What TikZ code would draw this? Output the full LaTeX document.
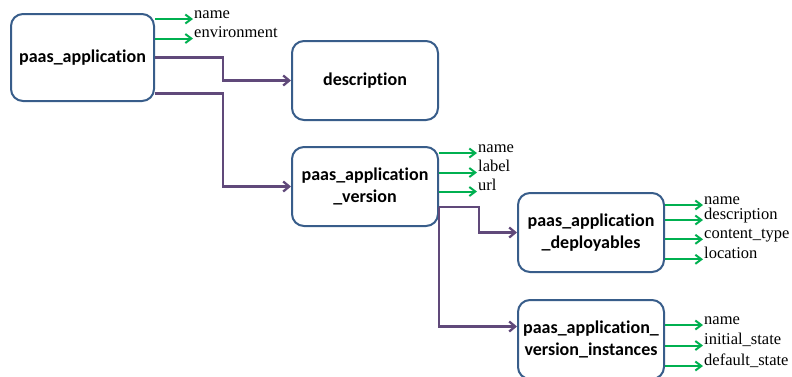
\documentclass[tikz,border=0pt]{standalone}
\usepackage{fontspec}
\setmainfont{Liberation Serif}
\newfontfamily\boxfont[Ligatures={NoCommon,NoContextual}]{Carlito}
\usetikzlibrary{positioning,arrows.meta}

\definecolor{bordo}{RGB}{56,93,138}
\definecolor{verde}{RGB}{0,176,80}
\definecolor{viola}{RGB}{96,73,122}

\begin{document}
\begin{tikzpicture}[x=1pt,y=-1pt,
  box/.style={draw=bordo,line width=2pt,rounded corners=12pt,fill=white,
    minimum width=146pt,minimum height=79pt,align=center,
    font=\boxfont\bfseries\fontsize{18}{22}\selectfont},
  attr/.style={anchor=mid west,inner sep=1pt,font=\fontsize{16.5}{18}\selectfont},
  has/.style={draw=verde,line width=2pt,-{Straight Barb[length=6pt,width=9pt]}},
  link/.style={draw=viola,line width=2.3pt,-{Straight Barb[length=6pt,width=10pt]}}]
  \useasboundingbox (0,0) rectangle (792,376);

  % Tabelle
  \node[box,minimum width=143pt,minimum height=87pt] (app) at (82.5,57.5) {paas\_application};
  \node[box,right=136pt of app,yshift=-23pt] (desc) {description};
  \node[box,below=25pt of desc] (ver) {paas\_application\\\_version};
  \node[box,right=78pt of ver,yshift=-46pt] (dep) {paas\_application\\\_deployables};
  \node[box,below=26pt of dep] (inst) {paas\_application\_\\version\_instances};

  % Attributi
  \foreach \b/\lista in {app/{name/38.5,environment/19},
      ver/{name/33.5,label/14,url/-5},
      dep/{name/27.5,description/12.5,content\_type/-6.8,location/-26.8},
      inst/{name/14.5,initial\_state/-6,default\_state/-26.5}} {
    \foreach \txt/\dy [count=\i] in \lista {
      \coordinate (\b-a\i) at ([yshift=\dy pt]\b.east);
      \node[attr] (\b-l\i) at ([xshift=38pt,yshift=3pt]\b-a\i) {\txt};
      \draw[has] (\b-a\i) -- (\b-a\i -| \b-l\i.west);
    }
  }

  % Collegamenti
  \draw[link] (app.east) -- ++(68,0) |- (desc.west);
  \draw[link] ([yshift=-36pt]app.east) -- ++(68,0) |- (ver.west);
  \draw[link] ([yshift=-20.5pt]ver.east) -- ++(40,0) |- (dep.west);
  \draw[link] ([yshift=-20.5pt]ver.east) |- ([yshift=13pt]inst.west);
\end{tikzpicture}
\end{document}
